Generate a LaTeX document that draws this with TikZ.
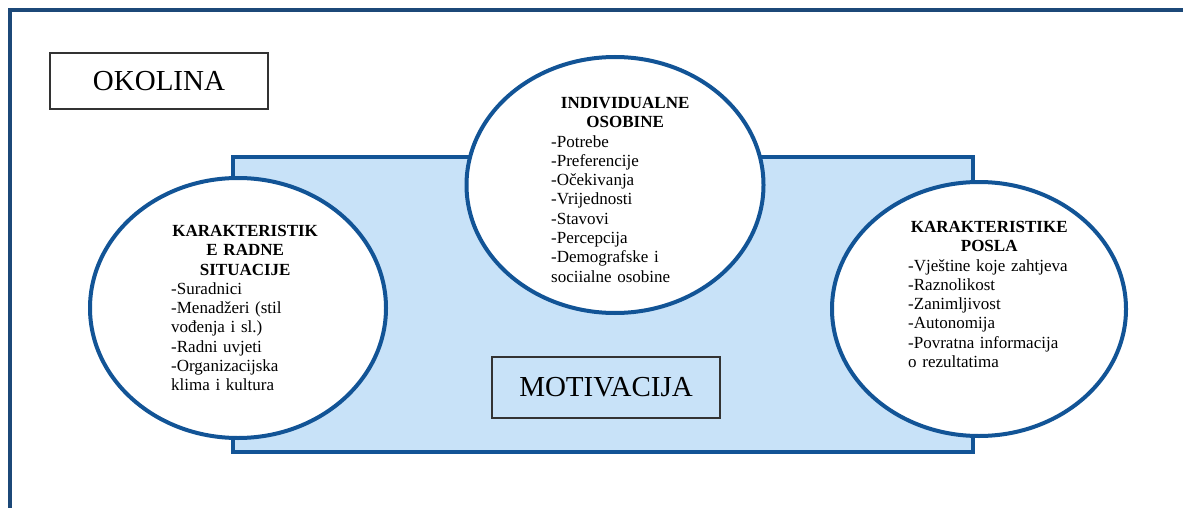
\documentclass[tikz,border=0pt]{standalone}
\usepackage{fontspec}
\setmainfont{Liberation Serif}
\usetikzlibrary{shapes.geometric}
\definecolor{framecol}{RGB}{28,72,120}
\definecolor{edgecol}{RGB}{18,84,150}
\definecolor{fieldcol}{RGB}{200,226,248}
\def\bubblefont{\fontsize{17}{19.3}\selectfont}
\def\labelfont{\fontsize{29}{34}\selectfont}

\begin{document}
\begin{tikzpicture}[x=1pt, y=-1pt,
  bubble/.style={ellipse, draw=edgecol, line width=4pt, fill=white, inner sep=0pt},
  bubbletext/.style={anchor=north west, inner sep=0pt, align=left, font=\bubblefont},
  labelbox/.style={draw=black!80, line width=1.2pt, inner sep=0pt, font=\labelfont}]
  \useasboundingbox (0,0) rectangle (1183,508);
  % okolina frame
  \draw[framecol, line width=4pt] (1183,10) -- (10,10) -- (10,508);
  \node[labelbox, minimum width=218pt, minimum height=56pt] (okolina) at (159,81) {OKOLINA};
  % motivation field
  \draw[edgecol, line width=4pt, fill=fieldcol] (233,157) rectangle (973,452);
  \node[labelbox, minimum width=228pt, minimum height=61pt] (motivacija) at (606,387.5) {MOTIVACIJA};
  % the three bubbles
  \node[bubble, minimum width=296pt, minimum height=260pt] (radna) at (238,308) {};
  \node[bubble, minimum width=297pt, minimum height=256pt] (osobine) at (615,185) {};
  \node[bubble, minimum width=294pt, minimum height=254pt] (posao) at (979,309) {};
  \node[bubbletext, text width=148pt] (radnatxt) at (171,225)
    {{\centering\bfseries KARAKTERISTIK\\E RADNE\\SITUACIJE\par}
     -Suradnici\\-Menadžeri (stil\\vođenja i sl.)\\-Radni uvjeti\\-Organizacijska\\klima i kultura};
  \node[bubbletext, text width=148pt] (osobinetxt) at (551,97)
    {{\centering\bfseries INDIVIDUALNE\\OSOBINE\par}
     -Potrebe\\-Preferencije\\-Očekivanja\\-Vrijednosti\\-Stavovi\\-Percepcija\\-Demografske i\\sociialne osobine};
  \node[bubbletext, text width=162pt] (posaotxt) at (908,221)
    {{\centering\bfseries KARAKTERISTIKE\\POSLA\par}
     -Vještine koje zahtjeva\\-Raznolikost\\-Zanimljivost\\-Autonomija\\-Povratna informacija\\o rezultatima};
\end{tikzpicture}
\end{document}
